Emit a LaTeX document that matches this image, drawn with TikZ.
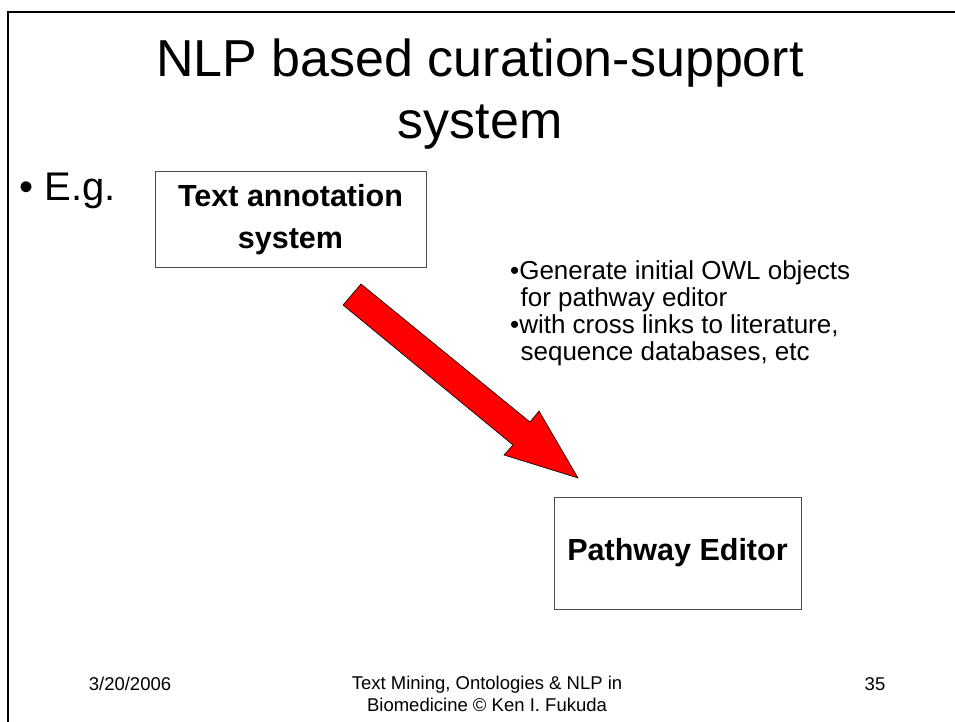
\documentclass[tikz,border=0pt]{standalone}
\usepackage{fontspec}
\setmainfont{Liberation Sans}
\begin{document}
\begin{tikzpicture}[x=1pt,y=-1pt,
  box/.style={draw=black!70,line width=1pt,fill=white,inner sep=0pt},
  boxtext/.style={font=\fontsize{30.5}{42}\selectfont\bfseries,align=center},
  foot/.style={font=\fontsize{18.5}{22}\selectfont,align=center},
  bigarrow/.style={fill=red,draw=black,line width=0.6pt,line join=miter}]
\useasboundingbox (0,0) rectangle (955,722);
\fill[white] (0,0) rectangle (955,722);
% slide frame
\draw[line width=2.5pt] (8,725) -- (8,12) -- (960,12);
% title
\node[font=\fontsize{52}{62}\selectfont,align=center] (title) at (480,94) {NLP based curation-support\\system};
% bullet
\node[font=\fontsize{40}{44}\selectfont,anchor=west] (eg) at (16,191) {\textbullet\ E.g.};
% boxes
\node[box,minimum width=271pt,minimum height=95pt] (tas) at (290.5,219.5) {};
\node[boxtext] (tastext) at (tas.center) {Text annotation\\system};
\node[box,minimum width=247pt,minimum height=112pt] (pe) at (677.5,553) {};
\node[boxtext] (petext) at (pe.center) {Pathway Editor};
% arrow
\coordinate (a1) at (343,305);
\coordinate (a2) at (361,284);
\coordinate (a3) at (530,422);
\coordinate (a4) at (539,411);
\coordinate (a5) at (578,478);
\coordinate (a6) at (504,455);
\coordinate (a7) at (513,445);
\draw[bigarrow] (a1) -- (a2) -- (a3) -- (a4) -- (a5) -- (a6) -- (a7) -- cycle;
% note
\node[font=\fontsize{26}{27}\selectfont,align=left,anchor=north west,inner sep=0pt] (note) at (510,260)
{\textbullet Generate initial OWL objects\\
\hspace*{0.4em}for pathway editor\\
\textbullet with cross links to literature,\\
\hspace*{0.4em}sequence databases, etc};
% footer
\node[foot] (date) at (130,684) {3/20/2006};
\node[foot] (mid) at (487,694) {Text Mining, Ontologies \& NLP in\\Biomedicine \textcopyright\ Ken I. Fukuda};
\node[foot] (num) at (875,684) {35};
\end{tikzpicture}
\end{document}
